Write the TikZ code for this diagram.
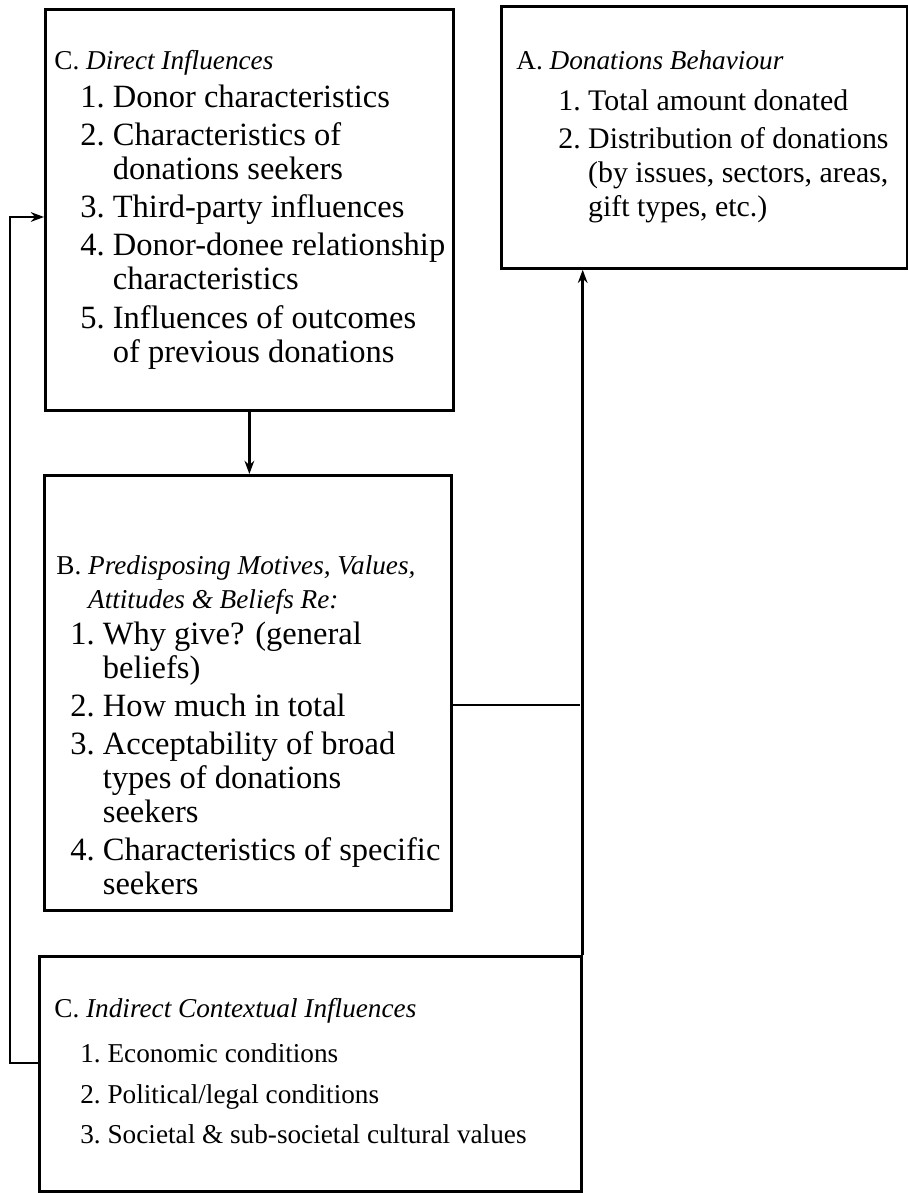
\documentclass[tikz,border=0pt]{standalone}
\usepackage{fontspec}
\setmainfont{Liberation Serif}
\usetikzlibrary{arrows.meta, positioning}
\tikzset{
	boxnode/.style={
			shape=rectangle,
			draw=black,
			line width=1.6pt,
			inner sep=0pt,
			anchor=north west
		},
	headnode/.style={
			anchor=north west,
			inner sep=0pt,
			font=\fontsize{15.5}{19.3}\selectfont
		},
	listnode/.style={
			anchor=north west,
			inner sep=0pt,
			font=\fontsize{#1}{19.3}\selectfont
		},
	link/.style={
			line width=1.5pt
		},
	arrowlink/.style={
			link,
			-{Stealth[length=7.5pt,width=5.5pt]}
		}
}
\newcommand{\gap}{\\[2.5pt]}

\begin{document}
\begin{tikzpicture}[x=0.02cm, y=-0.02cm]

  \useasboundingbox (0,0) rectangle (908,1193);

  \node[boxnode, minimum width=8.16cm, minimum height=8.02cm] (dirinf) at (44,8) {};
  \node[boxnode, minimum width=8.12cm, minimum height=5.24cm] (behav) at (500,5) {};
  \node[boxnode, minimum width=8.14cm, minimum height=8.70cm] (predisp) at (43,474) {};
  \node[boxnode, minimum width=10.84cm, minimum height=4.70cm] (indirinf) at (38,955) {};

  \node[headnode] (dirhead) at (54,50) {C. \textit{Direct Influences}};
  \node[listnode=18.5] (dirlist) at (80,83) {\begin{tabular}{@{}r@{\ }l@{}}
    1. & Donor characteristics\gap
    2. & Characteristics of\\
       & donations seekers\gap
    3. & Third-party influences\gap
    4. & Donor-donee relationship\\
       & characteristics\gap
    5. & Influences of outcomes\\
       & of previous donations
  \end{tabular}};

  \node[headnode] (behhead) at (516,50) {A. \textit{Donations Behaviour}};
  \node[listnode=17] (behlist) at (558,86) {\begin{tabular}{@{}r@{\ }l@{}}
    1. & Total amount donated\gap
    2. & Distribution of donations\\
       & (by issues, sectors, areas,\\
       & gift types, etc.)
  \end{tabular}};

  \node[headnode] (prehead) at (56,550) {\begin{tabular}{@{}l@{\ }l@{}}
    B. & \textit{Predisposing Motives, Values,}\\
       & \textit{Attitudes \& Beliefs Re:}
  \end{tabular}};
  \node[listnode=18.5] (prelist) at (70,620) {\begin{tabular}{@{}r@{\ }l@{}}
    1. & Why give? (general\\
       & beliefs)\gap
    2. & How much in total\gap
    3. & Acceptability of broad\\
       & types of donations\\
       & seekers\gap
    4. & Characteristics of specific\\
       & seekers
  \end{tabular}};

  \node[headnode] (indhead) at (54,998) {C. \textit{Indirect Contextual Influences}};
  \node[listnode=15.5] (indlist) at (80,1038) {\begin{tabular}{@{}r@{\ }l@{}}
    1. & Economic conditions\\[4pt]
    2. & Political/legal conditions\\[4pt]
    3. & Societal \& sub-societal cultural values
  \end{tabular}};

  \coordinate (bjoin) at (580,705);
  \coordinate (fbturn) at (10,1063);
  \coordinate (fbtop) at (10,217);

  \draw[arrowlink] (dirinf.south) -- (dirinf.south |- predisp.north);
  \draw[link] (predisp.east |- bjoin) -- (bjoin);
  \draw[arrowlink] (indirinf.north east) -- (indirinf.north east |- behav.south);
  \draw[arrowlink] (indirinf.west |- fbturn) -- (fbturn) -- (fbtop) -- (dirinf.west |- fbtop);

\end{tikzpicture}
\end{document}
